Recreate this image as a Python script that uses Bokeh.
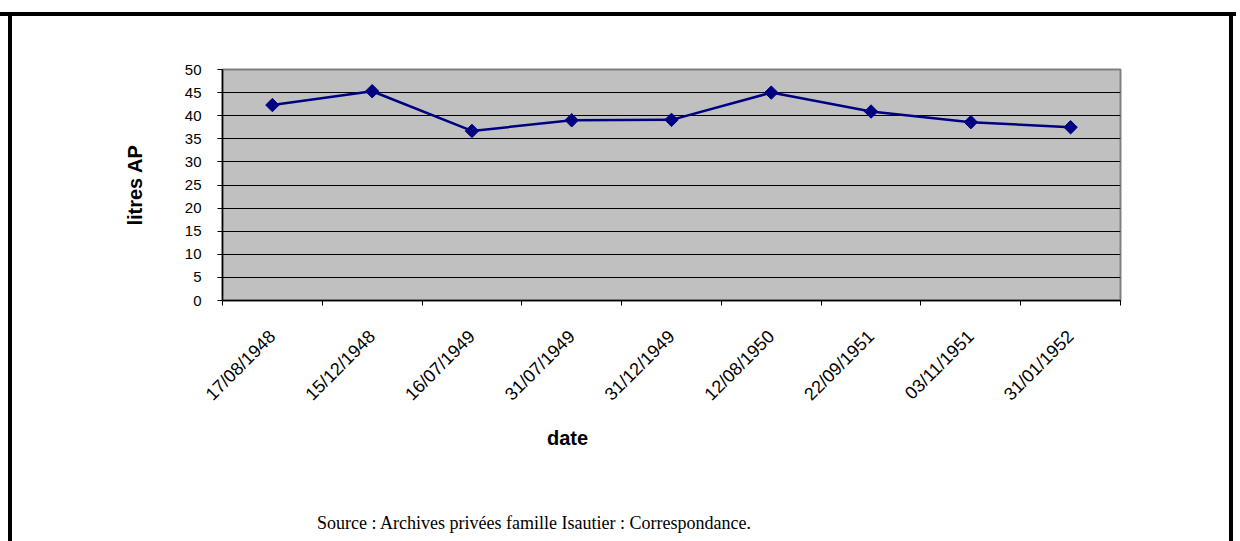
import math
from bokeh.plotting import figure
from bokeh.layouts import column
from bokeh.models import FixedTicker, Range1d
from bokeh.core.properties import value
from bokeh.embed import file_html
from bokeh.resources import INLINE

dates = ["17/08/1948", "15/12/1948", "16/07/1949", "31/07/1949", "31/12/1949",
         "12/08/1950", "22/09/1951", "03/11/1951", "31/01/1952"]
litres = [42.3, 45.3, 36.7, 39.0, 39.1, 45.0, 40.9, 38.6, 37.5]
yticks = [0, 5, 10, 15, 20, 25, 30, 35, 40, 45, 50]
y_title = "litres AP"
x_title = "date"
source_text = "Source : Archives privées famille Isautier : Correspondance."

n = len(dates)
xs = [i + 0.5 for i in range(n)]

W = 1236
H1 = 420          # main chart
H2 = 541 - H1     # caption strip
FL, FT, FR, FB = 222, 69, 1120, 300

side_shadow = ("inset 8px 0 0 0 #ffffff, inset 12px 0 0 0 #000000, "
               "inset -3px 0 0 0 #ffffff, inset -7px 0 0 0 #000000")

p = figure(width=W, height=H1, output_backend="svg", toolbar_location=None,
           x_range=Range1d(0, n), y_range=Range1d(0, 50),
           min_border_left=FL, min_border_right=W - FR,
           min_border_top=FT, min_border_bottom=H1 - FB)
p.styles = {"box-shadow": "inset 0 12px 0 0 #ffffff, inset 0 16px 0 0 #000000, " + side_shadow}
p.border_fill_color = None
p.background_fill_color = "#C0C0C0"
p.outline_line_color = "#808080"
p.outline_line_width = 2

# grid
p.xgrid.visible = False
p.ygrid.ticker = FixedTicker(ticks=yticks[1:-1])
p.ygrid.grid_line_color = "#000000"
p.ygrid.grid_line_width = 1

# y axis
ya = p.yaxis[0]
ya.ticker = FixedTicker(ticks=yticks)
ya.axis_line_color = "#000000"
ya.axis_line_width = 1.5
ya.major_tick_line_color = "#000000"
ya.major_tick_out = 5
ya.major_tick_in = 0
ya.minor_tick_line_color = None
ya.major_label_text_font = "Liberation Sans"
ya.major_label_text_font_size = "15px"
ya.major_label_text_color = "#000000"
ya.major_label_standoff = 16
ya.axis_label = y_title
ya.axis_label_text_font = "Liberation Sans"
ya.axis_label_text_font_style = "bold"
ya.axis_label_text_font_size = "20px"
ya.axis_label_text_color = "#000000"
ya.axis_label_standoff = 36

# x axis
xa = p.xaxis[0]
xa.ticker = FixedTicker(ticks=xs, minor_ticks=list(range(n + 1)))
xa.major_label_overrides = {x: d for x, d in zip(xs, dates)}
xa.major_label_orientation = math.pi / 4
xa.major_tick_line_color = None
xa.minor_tick_line_color = "#000000"
xa.minor_tick_out = 5
xa.minor_tick_in = 0
xa.axis_line_color = "#000000"
xa.axis_line_width = 1.5
xa.major_label_text_font = "Liberation Sans"
xa.major_label_text_font_size = "18px"
xa.major_label_text_color = "#000000"
xa.major_label_standoff = 27

# data
p.line(xs, litres, line_color="#000080", line_width=2.5)
p.scatter(xs, litres, marker="square", angle=math.pi / 4, size=9.5,
          fill_color="#000080", line_color="#000080")

# caption strip (x title + source); its frame is aligned with the chart frame
p2 = figure(width=W, height=H2, output_backend="svg", toolbar_location=None,
            x_range=Range1d(FL, FR), y_range=Range1d(H2, 0),
            min_border=0, min_border_left=0, min_border_right=0,
            min_border_top=0, min_border_bottom=0)
p2.styles = {"box-shadow": side_shadow}
p2.axis.visible = False
p2.grid.visible = False
p2.outline_line_color = None
p2.background_fill_color = None
p2.border_fill_color = None

p2.text(x=[567], y=[437 - H1], text=[x_title], text_align="center",
        text_baseline="middle", text_font=value("Liberation Sans"),
        text_font_style="bold", text_font_size="20px", text_color="#000000")
p2.text(x=[534], y=[522 - H1], text=[source_text], text_align="center",
        text_baseline="alphabetic", text_font=value("Liberation Serif"),
        text_font_size="18px", text_color="#000000")

layout = column(p, p2, spacing=0)
open("out.html", "w").write(file_html(layout, INLINE))
